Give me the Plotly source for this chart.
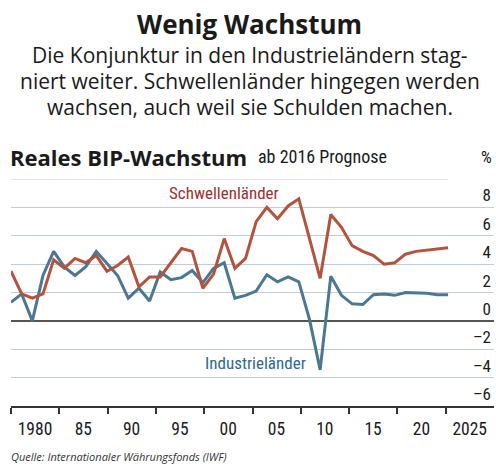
import numpy as np
import plotly.graph_objects as go

# ---- data ----
years = list(range(1980, 2022))
schwellen = [3.5, 1.9, 1.6, 1.9, 4.3, 3.7, 4.4, 4.1, 4.6, 3.5,
             3.9, 4.5, 2.4, 3.1, 3.1, 4.1, 5.1, 4.9, 2.3, 3.3,
             5.8, 3.7, 4.4, 7.0, 8.0, 7.2, 8.1, 8.6, 5.8, 3.0,
             7.5, 6.6, 5.3, 4.9, 4.6, 4.0, 4.1, 4.7, 4.9, 5.0,
             5.1, 5.15]
industrie = [1.3, 1.9, 0.0, 3.2, 4.9, 3.8, 3.2, 3.8, 4.9, 4.05,
             3.2, 1.6, 2.3, 1.4, 3.45, 2.9, 3.05, 3.55, 2.7, 3.7,
             4.1, 1.6, 1.8, 2.1, 3.25, 2.75, 3.1, 2.75, 0.1, -3.45,
             3.15, 1.8, 1.2, 1.15, 1.85, 1.9, 1.8, 2.0, 2.0, 1.95,
             1.85, 1.85]
x_labels = ["1980", "85", "90", "95", "00", "05", "10", "15", "20", "2025", ""]
y_ticks = [-6, -4, -2, 0, 2, 4, 6, 8]
y_ticktext = ["–6", "–4", "–2", "0", "2", "4", "6", "8"]
y_top = 10

# ---- styling ----
W, H = 496, 468
L, R, T, B = 11, 2, 179, 62
X0, X1 = 1980, 2025.31
RED, BLUE = "#b4533d", "#4b7794"
RED_TXT, BLUE_TXT = "#9e2f2c", "#2e6a8b"
GRID = "#c3ccd3"
TXT = "#1a1a1a"
COND = "Roboto Condensed, Roboto, sans-serif"
SANS = "Open Sans, Noto Sans, sans-serif"

pw, ph = W - L - R, H - T - B
def px(xp):
    return (xp - L) / pw
def py(yp):
    return (H - B - yp) / ph

fig = go.Figure()
fig.add_trace(go.Scatter(x=years, y=industrie, mode="lines",
                         line=dict(color=BLUE, width=3), hoverinfo="skip"))
fig.add_trace(go.Scatter(x=years, y=schwellen, mode="lines",
                         line=dict(color=RED, width=3), hoverinfo="skip"))

bounds = [float(b) for b in np.linspace(X0, X1, len(x_labels))]
shift = int(round((bounds[1] - bounds[0]) / (X1 - X0) * pw / 2))

fig.update_layout(
    width=W, height=H, margin=dict(l=L, r=R, t=T, b=B),
    paper_bgcolor="white", plot_bgcolor="white", showlegend=False,
    xaxis=dict(range=[X0, X1], tickvals=bounds, ticktext=x_labels,
               ticks="outside", ticklen=6, tickwidth=1.5, tickcolor="#333",
               showline=True, linecolor="#333", linewidth=1.5,
               showgrid=False, zeroline=False, ticklabelshift=shift,
               tickfont=dict(family=COND, size=17.5, color=TXT)),
    yaxis=dict(range=[-6, y_top], tickvals=y_ticks, ticktext=y_ticktext,
               side="right", ticklabelposition="inside top", ticks="",
               showgrid=True, gridcolor=GRID, gridwidth=1.2,
               zeroline=True, zerolinecolor="#555", zerolinewidth=1.5,
               showline=False,
               tickfont=dict(family=COND, size=17, color=TXT)),
)

# top grid line (only across the data range)
fig.add_shape(type="line", xref="x", yref="y", x0=years[0], x1=years[-1],
              y0=y_top, y1=y_top, line=dict(color=GRID, width=1.2))

ann = []
ann.append(dict(text="<b>Wenig Wachstum</b>", x=px(249), y=py(24),
                font=dict(family=SANS, size=26, color=TXT)))
for i, line in enumerate(["Die Konjunktur in den Industrieländern stag-",
                          "niert weiter. Schwellenländer hingegen werden",
                          "wachsen, auch weil sie Schulden machen."]):
    ann.append(dict(text=line, x=px(250), y=py(55 + 26 * i),
                    font=dict(family=SANS, size=21, color=TXT)))
ann.append(dict(text="<b>Reales BIP-Wachstum</b>", x=px(8), y=py(157),
                xanchor="left", font=dict(family=SANS, size=22, color=TXT)))
ann.append(dict(text="ab 2016 Prognose", x=px(256), y=py(157),
                xanchor="left", font=dict(family=COND, size=18, color=TXT)))
ann.append(dict(text="%", x=px(494), y=py(157), xanchor="right",
                font=dict(family=COND, size=17, color=TXT)))
ann.append(dict(text="<i>Quelle: Internationaler Währungsfonds (IWF)</i>",
                x=px(9), y=py(456), xanchor="left",
                font=dict(family=SANS, size=11, color="#333")))
for a in ann:
    a.update(xref="paper", yref="paper", showarrow=False)
    a.setdefault("xanchor", "center")
    a["yanchor"] = "middle"
    fig.add_annotation(**a)

fig.add_annotation(text="Schwellenländer", x=2000.0, y=9.0, xref="x", yref="y",
                   showarrow=False, font=dict(family=COND, size=17, color=RED_TXT))
fig.add_annotation(text="Industrieländer", x=2002.95, y=-3.0, xref="x", yref="y",
                   showarrow=False, font=dict(family=COND, size=17, color=BLUE_TXT))

fig.write_html("out.html", config={"displayModeBar": False},
               post_script="document.body.style.margin='0';"
                           "document.body.style.overflow='hidden';")
